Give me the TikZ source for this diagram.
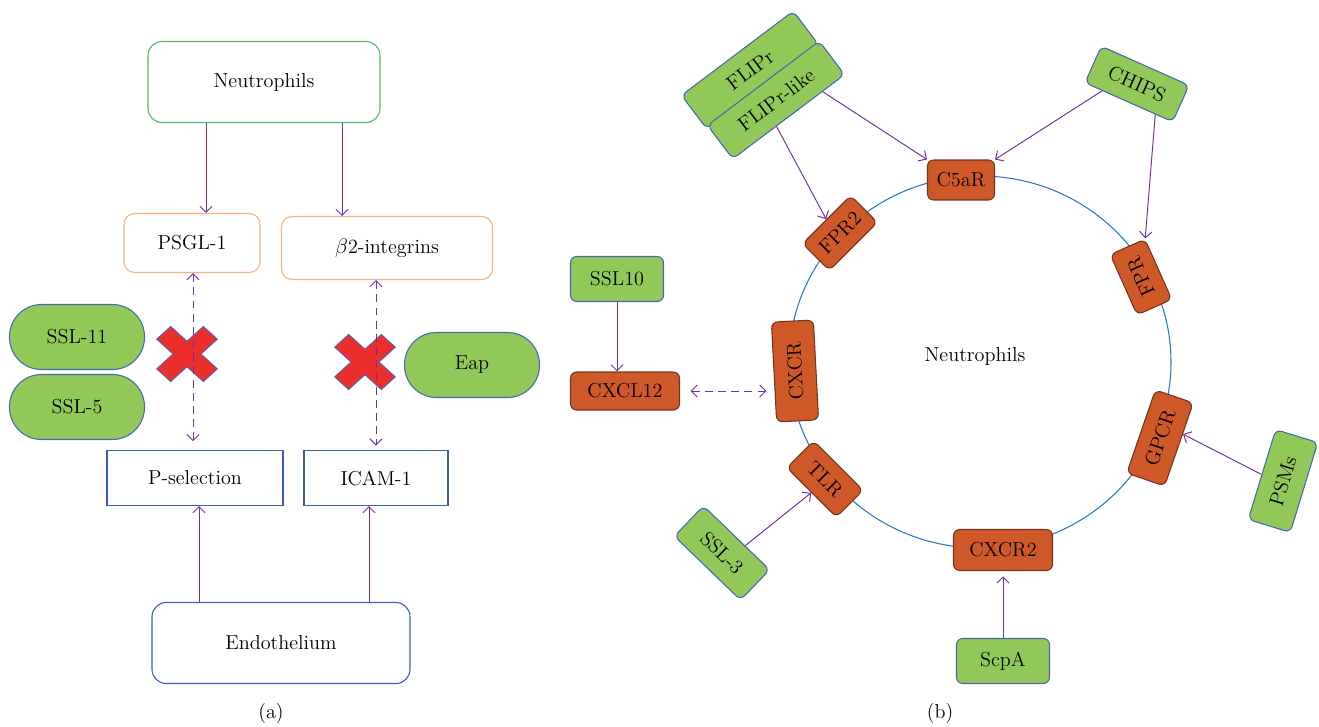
\documentclass[tikz,border=0pt]{standalone}
\usepackage{amsmath}
\usepackage{tikz}
\usetikzlibrary{arrows,arrows.meta,positioning,calc}

\definecolor{leaf}{RGB}{146,200,88}
\definecolor{tagline}{RGB}{66,104,176}
\definecolor{recfill}{RGB}{207,88,40}
\definecolor{recline}{RGB}{112,52,30}
\definecolor{arrowc}{RGB}{112,48,160}
\definecolor{neuline}{RGB}{80,185,110}
\definecolor{ligline}{RGB}{244,177,131}
\definecolor{endoline}{RGB}{62,90,190}
\definecolor{ringc}{RGB}{40,120,200}
\definecolor{xred}{RGB}{236,47,44}
\definecolor{xline}{RGB}{82,100,180}

\tikzset{
	base/.style={inner sep=0pt, line width=0.6pt, font=\fontsize{11.5}{13.5}\selectfont},
	cellbox/.style={base, draw=neuline, rounded corners=8pt},
	ligbox/.style={base, draw=ligline, rounded corners=6pt},
	endobox/.style={base, draw=endoline},
	pill/.style={base, fill=leaf, draw=tagline, rounded corners=0.64cm, minimum width=2.7cm, minimum height=1.3cm},
	rec/.style={base, fill=recfill, draw=recline, rounded corners=3.5pt},
	tag/.style={base, fill=leaf, draw=tagline, rounded corners=3.5pt},
	nox/.style={fill=xred, draw=xline, line width=0.5pt},
	ring/.style={draw=ringc, line width=0.6pt},
	arr/.style={draw=arrowc, line width=0.55pt, -{Straight Barb[length=3.5pt,width=7pt]}},
	darr/.style={draw=arrowc, line width=0.55pt, dash pattern=on 4.5pt off 3pt,
		{Straight Barb[length=3.5pt,width=7pt]}-{Straight Barb[length=3.5pt,width=7pt]}}
}

\begin{document}
\begin{tikzpicture}[x=0.02cm, y=-0.02cm]
	\useasboundingbox (0,0) rectangle (1319,727);

	% (a) adhesion
	\node[cellbox, minimum width=4.64cm, minimum height=1.62cm] (neu) at (264,82) {Neutrophils};
	\node[ligbox, minimum width=2.72cm, minimum height=1.18cm] (psgl) at (192,243) {PSGL-1};
	\node[ligbox, minimum width=4.22cm, minimum height=1.26cm] (btwo) at (387,248) {$\beta$2-integrins};
	\node[pill] (ssl11) at (77,337) {SSL-11};
	\node[pill] (ssl5) at (77,407) {SSL-5};
	\node[pill] (eap) at (472,365) {Eap};
	\node[endobox, minimum width=3.52cm, minimum height=1.1cm] (psel) at (195,478) {P-selection};
	\node[endobox, minimum width=2.88cm, minimum height=1.1cm] (icam) at (376,478) {ICAM-1};
	\node[endobox, rounded corners=8pt, minimum width=5.16cm, minimum height=1.62cm] (endo) at (281,643) {Endothelium};

	\foreach \c in {(187,354),(365,362)}
		\draw[nox, shift={\c}, xscale=1.1, rotate=45] (-9,-30) -- (9,-30) -- (9,-9) -- (30,-9) -- (30,9) -- (9,9) -- (9,30) -- (-9,30) -- (-9,9) -- (-30,9) -- (-30,-9) -- (-9,-9) -- cycle;

	\draw[arr] ($(neu.south)+(-58,0)$) coordinate (n1) -- (n1 |- psgl.north);
	\draw[arr] ($(neu.south)+(78,0)$) coordinate (n2) -- (n2 |- btwo.north);
	\draw[darr, shorten >=5pt] ($(psgl.south)+(1,0)$) coordinate (d1) -- (d1 |- psel.north);
	\draw[darr, shorten >=2.5pt] (icam.north |- btwo.south) -- (icam.north);
	\draw[arr] ($(endo.north)+(-82,0)$) coordinate (e1) -- (e1 |- psel.south);
	\draw[arr] ($(endo.north)+(88,0)$) coordinate (e2) -- (e2 |- icam.south);

	\node[base] (capa) at (271,713) {(a)};

	% (b) receptors
	\draw[ring] (980,362) ellipse [x radius=191, y radius=186];
	\node[base] (nlab) at (975,356) {Neutrophils};

	\node[rec, minimum width=1.34cm, minimum height=0.8cm] (c5a) at (961,180) {C5aR};
	\node[rec, rotate=45, minimum width=1.36cm, minimum height=0.76cm] (fpr2) at (840,233) {FPR2};
	\node[rec, rotate=114, minimum width=1.32cm, minimum height=0.76cm] (fpr) at (1141,277) {FPR};
	\node[rec, rotate=71, minimum width=1.76cm, minimum height=0.8cm] (gpcr) at (1160,438) {GPCR};
	\node[rec, minimum width=1.98cm, minimum height=0.82cm] (cxcr2) at (1003,550) {CXCR2};
	\node[rec, rotate=-45, minimum width=1.4cm, minimum height=0.76cm] (tlr) at (825,479) {TLR};
	\node[rec, rotate=93, minimum width=2cm, minimum height=0.84cm] (cxcr) at (795,371) {CXCR};
	\node[rec, minimum width=2.18cm, minimum height=0.76cm] (cxcl) at (625,391) {CXCL12};

	\node[tag, minimum width=1.86cm, minimum height=0.9cm] (ssl10) at (617,279) {SSL10};
	\node[tag, minimum width=1.86cm, minimum height=0.9cm] (scpa) at (1003,661) {ScpA};
	\node[tag, rotate=-44, minimum width=1.84cm, minimum height=0.84cm] (ssl3) at (722,553) {SSL-3};
	\node[tag, rotate=73, minimum width=1.88cm, minimum height=0.88cm] (psms) at (1283,481) {PSMs};
	\node[tag, rotate=-24, minimum width=1.92cm, minimum height=0.8cm] (chips) at (1137,84) {CHIPS};
	\node[tag, rotate=37, minimum width=2.8cm, minimum height=0.84cm] (flipr) at (750,70) {FLIPr};
	\node[tag, rotate=37, minimum width=2.8cm, minimum height=0.84cm] (flipl) at (776,100) {FLIPr-like};

	\draw[arr] ($(flipl.south)!0.6!(flipl.south east)$) -- (c5a.north west);
	\draw[arr] ($(flipl.south)!0.22!(flipl.south west)$) -- (fpr2.north);
	\draw[arr] ($(chips.south)!0.6!(chips.south west)$) -- (c5a.north east);
	\draw[arr] ($(chips.south)!0.6!(chips.south east)$) -- (fpr.south east);
	\draw[arr] (psms.north) -- ($(gpcr.south)!0.25!(gpcr.south east)$);
	\draw[arr] ($(ssl3.north)!0.25!(ssl3.north east)$) -- (tlr.south);
	\draw[arr, shorten >=3pt] (scpa) -- (cxcr2);
	\draw[arr] (ssl10.south) -- (ssl10.south |- cxcl.north);
	\draw[darr, shorten <=6pt, shorten >=4pt] (cxcl.east) -- (cxcl.east -| cxcr.north);

	\node[base] (capb) at (940,713) {(b)};
\end{tikzpicture}
\end{document}
